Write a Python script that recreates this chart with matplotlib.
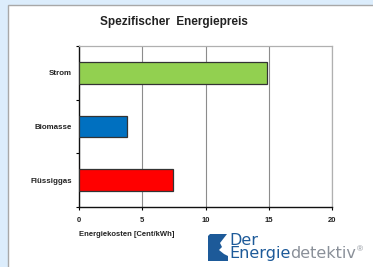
import matplotlib
matplotlib.use("Agg")
import matplotlib.pyplot as plt
from matplotlib.patches import Rectangle, Polygon

categories = ["Strom", "Biomasse", "Flüssiggas"]
values = [14.9, 3.8, 7.4]
bar_colors = ["#92d050", "#0070c0", "#ff0000"]
x_ticks = [0, 5, 10, 15, 20]
title = "Spezifischer  Energiepreis"
xlabel = "Energiekosten [Cent/kWh]"

plt.rcParams['font.family'] = ['Liberation Sans', 'DejaVu Sans']

W, H = 373, 267
fig = plt.figure(figsize=(W / 100, H / 100), dpi=100)
fig.patch.set_facecolor("#dcedfc")

# white panel
fig.add_artist(Rectangle((7.5 / W, -0.05), 1.0, (262 / H) + 0.05, transform=fig.transFigure,
                         facecolor="white", edgecolor="#a8a8a8", linewidth=1.0, zorder=0))

ax = fig.add_axes([79 / W, 60 / H, 253 / W, 161 / H])
ax.set_facecolor("white")
ypos = list(range(len(categories)))
ax.barh(ypos, values, height=0.4, color=bar_colors, edgecolor="#333333", linewidth=0.9, zorder=3)
ax.set_xlim(0, 20)
ax.set_ylim(len(categories) - 0.5, -0.5)
ax.set_xticks(x_ticks)
ax.set_xticklabels([str(t) for t in x_ticks], fontsize=5.5, fontweight="bold", color="#222222")
ax.set_yticks(ypos)
ax.set_yticklabels(categories, fontsize=5.7, fontweight="bold", color="#222222")
ax.tick_params(axis="y", which="major", length=0, pad=5)
ax.set_yticks([-0.5, 0.5, 1.5, 2.5], minor=True)
ax.tick_params(axis="y", which="minor", length=2.5, width=0.8, direction="out")
ax.tick_params(axis="x", which="major", length=2.5, width=0.8, pad=5)
ax.grid(axis="x", color="#8c8c8c", linewidth=0.8, zorder=1)
for s in ["top", "right"]:
    ax.spines[s].set_color("#b0b0b0")
    ax.spines[s].set_linewidth(0.9)
for s in ["left", "bottom"]:
    ax.spines[s].set_color("#111111")
    ax.spines[s].set_linewidth(1.0)

fig.text(174 / W, 1 - 22 / H, title, ha="center", va="center", fontsize=8.5,
         fontweight="bold", color="#222222")
fig.text(79 / W, 1 - 235 / H, xlabel, ha="left", va="center", fontsize=5.5,
         fontweight="bold", color="#222222")

# logo
blue = "#1d5a99"
gray = "#8a9099"
pts = [(210, 234), (227, 234), (220, 243), (222, 247), (219, 250), (224, 254),
       (228, 256), (228, 261), (208, 261), (208, 236)]
fig.add_artist(Polygon([(x / W, 1 - y / H) for x, y in pts], closed=True,
                       transform=fig.transFigure, facecolor=blue, edgecolor="none"))
t1 = fig.text(229 / W, 1 - 258 / H, "Der\nEnergie", ha="left", va="baseline", fontsize=11.5,
              color=blue, family="DejaVu Sans", linespacing=0.82)
t2 = fig.text(0, 0, "detektiv", ha="left", va="baseline", fontsize=11.5,
              color=gray, family="DejaVu Sans")
fig.canvas.draw()
bb = t1.get_window_extent()
t2.set_position((bb.x1 / fig.bbox.width, 1 - 258 / H))
fig.canvas.draw()
bb2 = t2.get_window_extent()
fig.text(bb2.x1 / fig.bbox.width + 0.003, 1 - 251 / H, "®", ha="left", va="baseline",
         fontsize=6, color=gray)

fig.savefig("out.png", dpi=100, facecolor=fig.get_facecolor())
